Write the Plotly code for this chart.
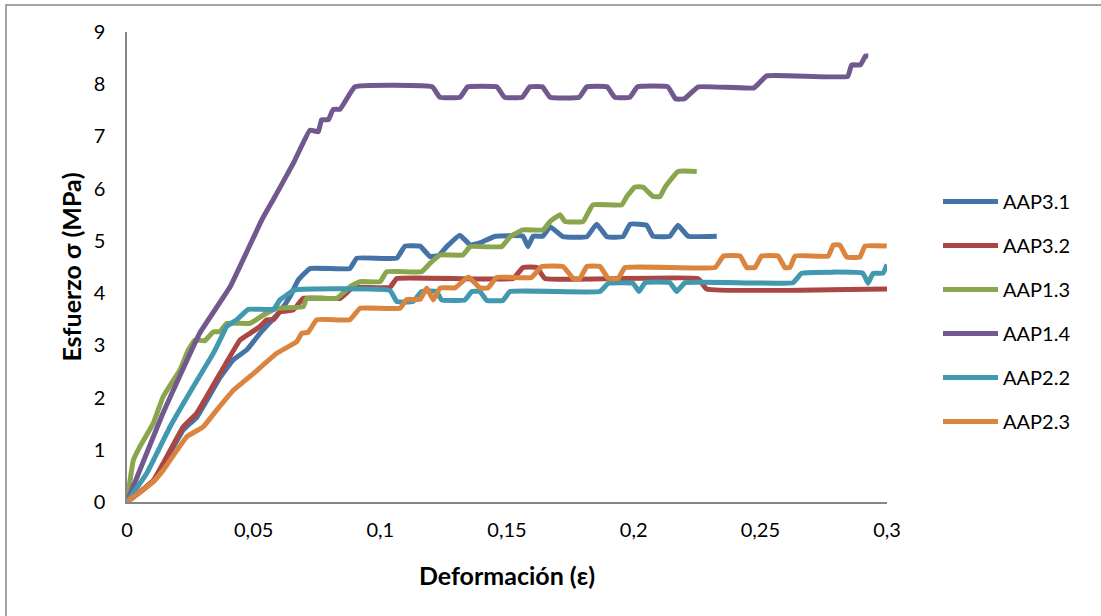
import plotly.graph_objects as go

# ---- data ----
names = ["AAP3.1", "AAP3.2", "AAP1.3", "AAP1.4", "AAP2.2", "AAP2.3"]

aap31_x = [0, 0.0105, 0.0222, 0.0275, 0.0367, 0.0419, 0.0472, 0.0525, 0.0604, 0.0643, 0.0676, 0.0722,
           0.088, 0.0907, 0.1065, 0.1097, 0.1157, 0.1196, 0.1230, 0.1262, 0.1314, 0.1355, 0.1393, 0.1453,
           0.1563, 0.1583, 0.1603, 0.1642, 0.167, 0.1721, 0.1815, 0.1854, 0.1894, 0.1958, 0.1986, 0.2051,
           0.2076, 0.2143, 0.2175, 0.2215, 0.2328]
aap31_y = [0, 0.40, 1.38, 1.62, 2.38, 2.72, 2.91, 3.23, 3.65, 3.93, 4.25, 4.47,
           4.47, 4.67, 4.67, 4.90, 4.90, 4.70, 4.72, 4.89, 5.11, 4.92, 4.96, 5.09,
           5.09, 4.89, 5.09, 5.09, 5.27, 5.08, 5.08, 5.32, 5.08, 5.08, 5.32, 5.30,
           5.09, 5.09, 5.30, 5.09, 5.09]

aap32_x = [0, 0.0105, 0.0222, 0.0275, 0.0367, 0.0446, 0.0486, 0.0525, 0.0551, 0.0578, 0.0604, 0.0657,
           0.0696, 0.0841, 0.0893, 0.1038, 0.1065, 0.1524, 0.1563, 0.1618, 0.165, 0.2254, 0.2288, 0.3]
aap32_y = [0, 0.42, 1.44, 1.70, 2.46, 3.10, 3.23, 3.36, 3.49, 3.49, 3.64, 3.68,
           3.90, 3.90, 4.11, 4.11, 4.28, 4.28, 4.49, 4.49, 4.28, 4.28, 4.08, 4.08]

aap13_x = [0, 0.0025, 0.0051, 0.0104, 0.0143, 0.0209, 0.0242, 0.0268, 0.0308, 0.0341, 0.0367, 0.0393,
           0.0486, 0.0538, 0.0591, 0.0696, 0.0709, 0.0828, 0.088, 0.092, 0.0999, 0.1025, 0.1163, 0.1196,
           0.1236, 0.1326, 0.1354, 0.1479, 0.1512, 0.1563, 0.1642, 0.167, 0.1709, 0.1729, 0.18, 0.1839,
           0.1953, 0.1973, 0.2005, 0.2037, 0.2076, 0.2104, 0.2124, 0.2175, 0.2249]
aap13_y = [0, 0.80, 1.06, 1.51, 2.02, 2.53, 2.91, 3.10, 3.09, 3.26, 3.26, 3.42,
           3.42, 3.58, 3.71, 3.74, 3.90, 3.90, 4.12, 4.22, 4.22, 4.41, 4.41, 4.57,
           4.73, 4.73, 4.89, 4.89, 5.08, 5.21, 5.21, 5.37, 5.50, 5.37, 5.37, 5.69,
           5.69, 5.85, 6.03, 6.03, 5.85, 5.85, 6.03, 6.33, 6.33]

aap14_x = [0, 0.0142, 0.0288, 0.0407, 0.0532, 0.0576, 0.0657, 0.0722, 0.0755, 0.0768, 0.0795, 0.0814,
           0.0841, 0.0900, 0.1205, 0.1235, 0.1315, 0.1345, 0.146, 0.149, 0.156, 0.159, 0.164, 0.167,
           0.1785, 0.1815, 0.1895, 0.1925, 0.1985, 0.2015, 0.2135, 0.2165, 0.2200, 0.2255, 0.2475,
           0.2525, 0.2845, 0.2860, 0.2895, 0.2915, 0.2926]
aap14_y = [0, 1.70, 3.24, 4.12, 5.40, 5.78, 6.49, 7.12, 7.09, 7.32, 7.32, 7.52,
           7.52, 7.95, 7.95, 7.75, 7.75, 7.95, 7.95, 7.75, 7.75, 7.95, 7.95, 7.75,
           7.75, 7.95, 7.95, 7.75, 7.75, 7.95, 7.95, 7.72, 7.72, 7.95, 7.93,
           8.16, 8.15, 8.37, 8.37, 8.54, 8.54]

aap22_x = [0, 0.0078, 0.017, 0.0262, 0.0341, 0.038, 0.0393, 0.0433, 0.0479, 0.0578, 0.0604, 0.0663,
           0.1038, 0.1065, 0.1129, 0.1163, 0.1222, 0.1242, 0.1334, 0.1361, 0.1393, 0.142, 0.1484, 0.1512,
           0.1867, 0.19, 0.1997, 0.2021, 0.2045, 0.2143, 0.217, 0.2203, 0.2629, 0.2663, 0.2905, 0.2925,
           0.2945, 0.2984, 0.3]
aap22_y = [0, 0.55, 1.44, 2.21, 2.85, 3.23, 3.36, 3.49, 3.69, 3.69, 3.87, 4.06,
           4.05, 3.84, 3.84, 4.03, 4.03, 3.87, 3.87, 4.03, 4.03, 3.86, 3.86, 4.03,
           4.03, 4.19, 4.19, 4.03, 4.20, 4.20, 4.03, 4.20, 4.20, 4.38, 4.38, 4.19,
           4.38, 4.38, 4.55]

aap23_x = [0, 0.0104, 0.0143, 0.0236, 0.0301, 0.0354, 0.042, 0.0499, 0.0591, 0.067, 0.069, 0.0715,
           0.0749, 0.088, 0.092, 0.1078, 0.1104, 0.1157, 0.1183, 0.1209, 0.1236, 0.1295, 0.1347, 0.1393,
           0.1425, 0.1459, 0.1597, 0.1637, 0.1721, 0.1762, 0.1788, 0.1815, 0.1867, 0.19, 0.1939, 0.1966,
           0.2321, 0.2354, 0.242, 0.2446, 0.2479, 0.2505, 0.257, 0.2597, 0.2617, 0.2637, 0.2768, 0.2788,
           0.2814, 0.2841, 0.2893, 0.2913, 0.2999]
aap23_y = [0, 0.39, 0.61, 1.25, 1.44, 1.76, 2.14, 2.46, 2.85, 3.07, 3.23, 3.25,
           3.49, 3.49, 3.71, 3.71, 3.88, 3.88, 4.10, 3.87, 4.10, 4.10, 4.31, 4.10,
           4.10, 4.30, 4.30, 4.51, 4.51, 4.28, 4.28, 4.51, 4.51, 4.28, 4.28, 4.49,
           4.49, 4.71, 4.71, 4.49, 4.49, 4.71, 4.71, 4.49, 4.49, 4.71, 4.71, 4.92,
           4.92, 4.69, 4.69, 4.90, 4.90]

xs = [aap31_x, aap32_x, aap13_x, aap14_x, aap22_x, aap23_x]
ys = [aap31_y, aap32_y, aap13_y, aap14_y, aap22_y, aap23_y]
colors = ["#4572A7", "#AA4643", "#89A54E", "#71588F", "#4198AF", "#DB843D"]

x_ticks = [0, 0.05, 0.1, 0.15, 0.2, 0.25, 0.3]
y_ticks = list(range(0, 10))

FONT = "Lato, 'Noto Sans', sans-serif"

fig = go.Figure()
for i, name in enumerate(names):
    fig.add_trace(go.Scatter(
        x=xs[i], y=ys[i], name=name, mode="lines",
        line=dict(color=colors[i], width=5, shape="spline", smoothing=0.3),
        legendgroup=name,
    ))

L, R, T, B = 127, 214, 32, 114
W, H = 1101, 616
pw, ph = W - L - R, H - T - B

fig.update_layout(
    width=W, height=H,
    margin=dict(l=L, r=R, t=T, b=B, autoexpand=False),
    paper_bgcolor="white", plot_bgcolor="white",
    separators=",.",
    font=dict(family=FONT, size=20, color="black"),
    showlegend=True,
    legend=dict(
        x=(938 - L) / pw, y=(502 - 182) / ph, xanchor="left", yanchor="top",
        font=dict(family=FONT, size=20, color="black"),
        tracegroupgap=15, itemwidth=55, bgcolor="rgba(0,0,0,0)",
    ),
    xaxis=dict(
        range=[0, 0.3], tickvals=x_ticks, showgrid=False, zeroline=False,
        showline=True, linecolor="#868686", linewidth=1.5,
        ticks="", ticklabelstandoff=9,
        tickfont=dict(family=FONT, size=20),
        title=dict(text="<b>Deformación (ε)</b>", font=dict(family=FONT, size=25), standoff=28),
        automargin=False,
    ),
    yaxis=dict(
        range=[0, 9], tickvals=y_ticks, showgrid=False, zeroline=False,
        showline=True, linecolor="#868686", linewidth=1.5,
        ticks="", ticklabelstandoff=16,
        tickfont=dict(family=FONT, size=20),
        title=dict(text="<b>Esfuerzo σ (MPa)</b>", font=dict(family=FONT, size=25), standoff=5),
        automargin=False,
    ),
    shapes=[dict(
        type="rect", xref="paper", yref="paper",
        x0=(6 - L) / pw, x1=1.6, y0=-0.6, y1=(502 - 5) / ph,
        line=dict(color="#868686", width=1.5), fillcolor="rgba(0,0,0,0)", layer="below",
    )],
)

fig.write_html(
    "out.html",
    config={"displayModeBar": False},
    post_script="document.body.style.margin='0';document.body.style.overflow='hidden';",
)
